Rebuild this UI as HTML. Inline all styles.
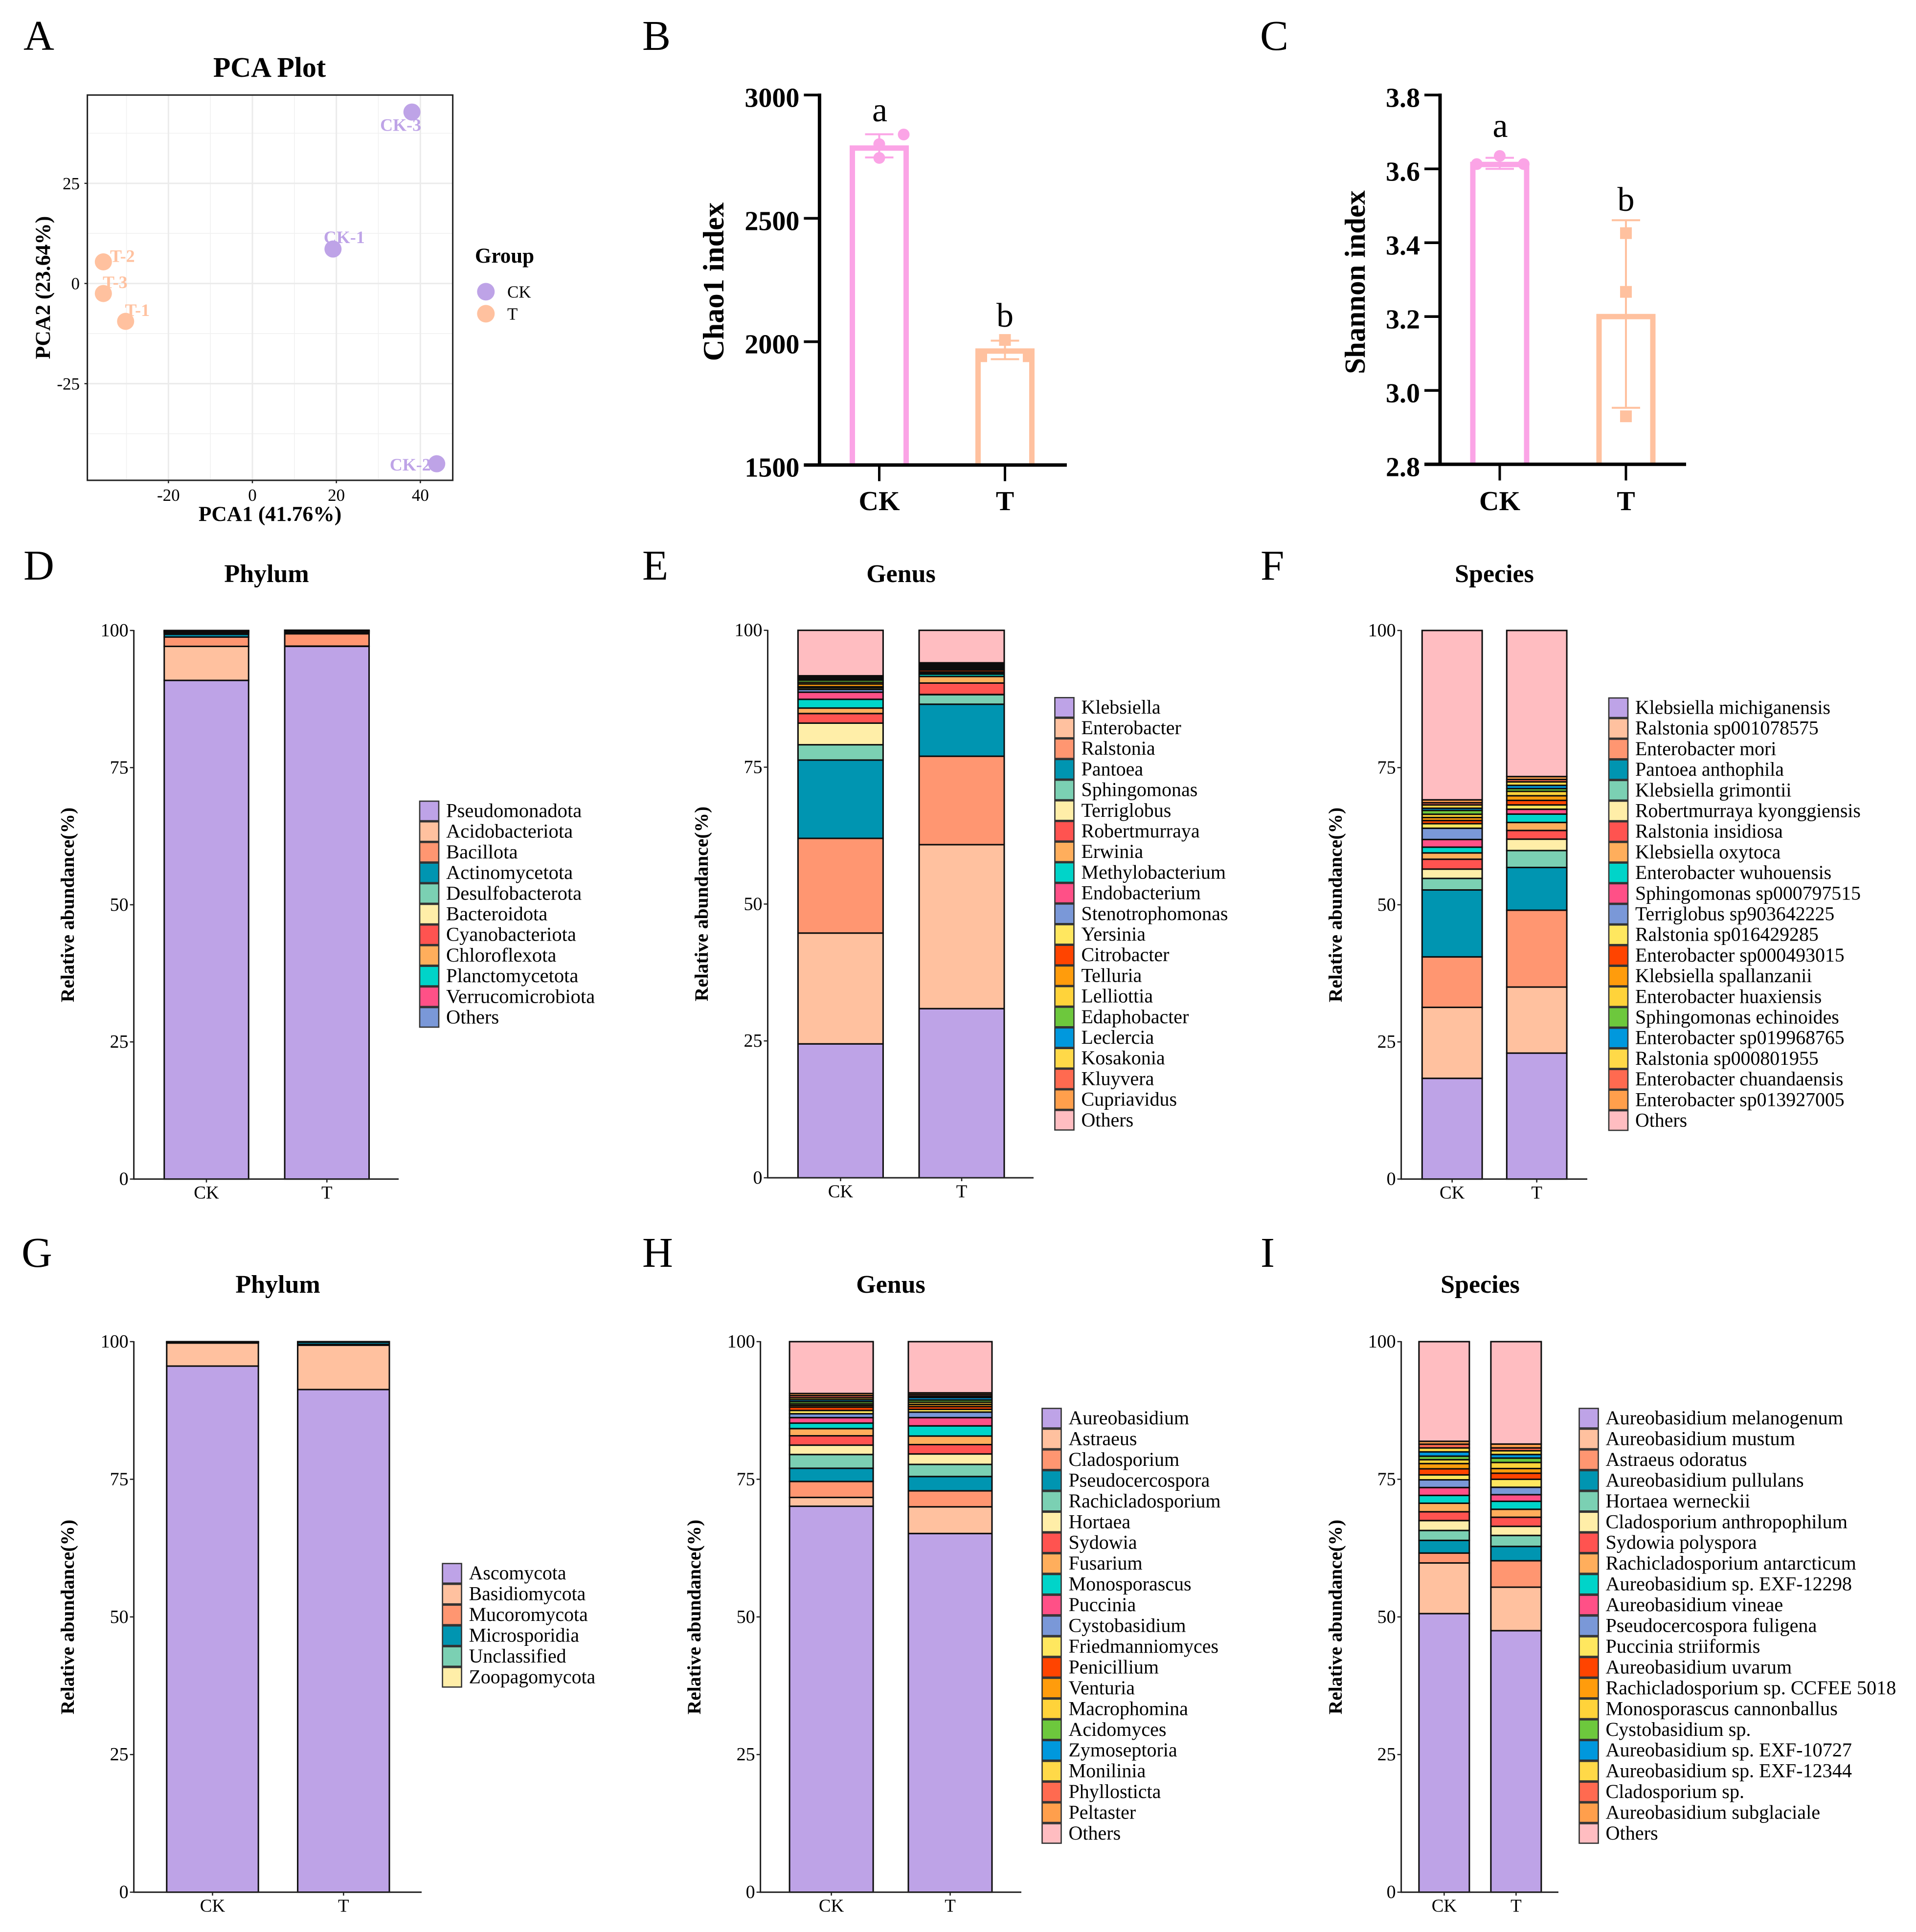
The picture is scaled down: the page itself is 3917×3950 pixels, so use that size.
<!DOCTYPE html>
<html lang="en">
<head>
<meta charset="utf-8">
<title>Microbial diversity and composition panels</title>
<style>
html,body{margin:0;padding:0;background:#fff}
svg{display:block}
text{font-family:"Liberation Serif","Times New Roman",serif;fill:#000}
.bold{font-weight:bold}
</style>
</head>
<body>
<svg id="figure" xmlns="http://www.w3.org/2000/svg" width="3917" height="3950" viewBox="0 0 3917 3950">
<rect x="0" y="0" width="3917" height="3950" fill="#fff"/>
<g font-size="87">
<text x="48" y="102">A</text>
<text x="1313" y="102">B</text>
<text x="2576" y="102">C</text>
<text x="48" y="1185">D</text>
<text x="1313" y="1185">E</text>
<text x="2577" y="1185">F</text>
<text x="44" y="2590">G</text>
<text x="1313" y="2590">H</text>
<text x="2577" y="2590">I</text>
</g>
<g class="bold" font-size="52" text-anchor="middle">
<text class="bold" x="551" y="157" font-size="58">PCA Plot</text>
<text class="bold" x="545" y="1190">Phylum</text>
<text class="bold" x="1842" y="1190">Genus</text>
<text class="bold" x="3055" y="1190">Species</text>
<text class="bold" x="568" y="2643">Phylum</text>
<text class="bold" x="1821" y="2643">Genus</text>
<text class="bold" x="3026" y="2643">Species</text>
</g>
<g text-anchor="middle">
<text class="bold" font-size="43.5" x="552" y="1065">PCA1 (41.76%)</text>
<text class="bold" font-size="43.5" transform="translate(102,588) rotate(-90)">PCA2 (23.64%)</text>
<text class="bold" font-size="60.5" transform="translate(1479,576) rotate(-90)">Chao1 index</text>
<text class="bold" font-size="59" transform="translate(2790,577) rotate(-90)">Shannon index</text>
<text class="bold" font-size="39.5" transform="translate(151,1850) rotate(-90)">Relative abundance(%)</text>
<text class="bold" font-size="39.5" transform="translate(1447,1848) rotate(-90)">Relative abundance(%)</text>
<text class="bold" font-size="39.5" transform="translate(2743,1850) rotate(-90)">Relative abundance(%)</text>
<text class="bold" font-size="39.5" transform="translate(151,3306) rotate(-90)">Relative abundance(%)</text>
<text class="bold" font-size="39.5" transform="translate(1432,3306) rotate(-90)">Relative abundance(%)</text>
<text class="bold" font-size="39.5" transform="translate(2743,3306) rotate(-90)">Relative abundance(%)</text>
</g>
<g>
<text class="bold" font-size="43" x="971" y="537">Group</text>
</g>
</svg>
<script>
/* ---------- PCA data ---------- */
const pcaSamples = ['CK-1','CK-2','CK-3','T-1','T-2','T-3'];
const pcaGroups = ['CK','CK','CK','T','T','T'];
const pcaX = [19.2,43.9,38,-30.2,-35.5,-35.5];
const pcaY = [8.6,-45,42.8,-9.45,5.4,-2.5];
const pcaXTicks = [-20,0,20,40];
const pcaYTicks = [-25,0,25];
const pcaXMinor = [-30,-10,10,30];
const pcaYMinor = [-37.5,-12.5,12.5,37.5];
const pcaLegendGroups = ['CK','T'];

/* ---------- Alpha diversity data ---------- */
const alphaCategories = ['CK','T'];
const chaoTicks = ['1500','2000','2500','3000'];
const chaoMeans = [2785,1962];
const chaoUpper = [2841,2004];
const chaoLower = [2747,1929];
const chaoPointsCK = [2801,2745,2840];
const chaoPointsT = [2007,1941,1941];
const chaoLetters = ['a','b'];
const shannonTicks = ['2.8','3.0','3.2','3.4','3.6','3.8'];
const shannonMeans = [3.612,3.2];
const shannonUpper = [3.63,3.461];
const shannonLower = [3.6,2.953];
const shannonPointsCK = [3.635,3.613,3.613];
const shannonPointsT = [3.426,3.267,2.93];
const shannonLetters = ['a','b'];

/* ---------- Stacked bars shared ---------- */
const stackCategories = ['CK','T'];
const stackTicks = [0,25,50,75,100];

/* D bacteria phylum */
const bacPhylumNames = ['Pseudomonadota','Acidobacteriota','Bacillota','Actinomycetota','Desulfobacterota','Bacteroidota','Cyanobacteriota','Chloroflexota','Planctomycetota','Verrucomicrobiota','Others'];
const bacPhylumCK = [90.9,6.2,1.7,0.5,0.25,0.15,0.1,0.08,0.05,0.04,0.03];
const bacPhylumT = [97.1,0.05,2.25,0.15,0.1,0.1,0.08,0.07,0.05,0.05,0.05];

/* E bacteria genus */
const bacGenusNames = ['Klebsiella','Enterobacter','Ralstonia','Pantoea','Sphingomonas','Terriglobus','Robertmurraya','Erwinia','Methylobacterium','Endobacterium','Stenotrophomonas','Yersinia','Citrobacter','Telluria','Lelliottia','Edaphobacter','Leclercia','Kosakonia','Kluyvera','Cupriavidus','Others'];
const bacGenusCK = [24.46,20.24,17.3,14.3,2.8,3.95,1.75,1.0,1.6,1.3,0.5,0.3,0.2,0.5,0.3,0.4,0.2,0.2,0.2,0.2,8.3];
const bacGenusT = [30.9,29.95,16.15,9.5,1.75,0.03,2.09,1.2,0.43,0.1,0.1,0.2,0.35,0.1,0.2,0.2,0.2,0.2,0.2,0.22,5.93];

/* F bacteria species */
const bacSpeciesNames = ['Klebsiella michiganensis','Ralstonia sp001078575','Enterobacter mori','Pantoea anthophila','Klebsiella grimontii','Robertmurraya kyonggiensis','Ralstonia insidiosa','Klebsiella oxytoca','Enterobacter wuhouensis','Sphingomonas sp000797515','Terriglobus sp903642225','Ralstonia sp016429285','Enterobacter sp000493015','Klebsiella spallanzanii','Enterobacter huaxiensis','Sphingomonas echinoides','Enterobacter sp019968765','Ralstonia sp000801955','Enterobacter chuandaensis','Enterobacter sp013927005','Others'];
const bacSpeciesCK = [18.36,12.94,9.2,12.2,2.1,1.7,1.8,1.15,1.05,1.4,2.05,0.83,0.57,0.55,0.6,0.7,0.4,0.6,0.4,0.53,30.87];
const bacSpeciesT = [22.96,12.04,14,7.8,3.08,2.08,1.58,1.46,1.53,0.87,0.02,0.78,0.83,0.84,0.8,0.51,0.59,0.63,0.44,0.53,26.63];

/* G fungi phylum */
const funPhylumNames = ['Ascomycota','Basidiomycota','Mucoromycota','Microsporidia','Unclassified','Zoopagomycota'];
const funPhylumCK = [95.56,4.19,0.1,0.05,0.05,0.05];
const funPhylumT = [91.3,8.05,0.15,0.4,0.05,0.05];

/* H fungi genus */
const funGenusNames = ['Aureobasidium','Astraeus','Cladosporium','Pseudocercospora','Rachicladosporium','Hortaea','Sydowia','Fusarium','Monosporascus','Puccinia','Cystobasidium','Friedmanniomyces','Penicillium','Venturia','Macrophomina','Acidomyces','Zymoseptoria','Monilinia','Phyllosticta','Peltaster','Others'];
const funGenusCK = [70.1,1.6,2.9,2.4,2.5,1.7,1.7,1.3,1.0,1.0,0.7,0.6,0.6,0.3,0.3,0.4,0.35,0.35,0.4,0.38,9.42];
const funGenusT = [65.15,4.85,2.9,2.6,2.2,1.9,1.7,1.55,1.85,1.5,1.0,0.5,0.5,0.4,0.4,0.4,0.45,0.25,0.3,0.3,9.3];

/* I fungi species */
const funSpeciesNames = ['Aureobasidium melanogenum','Aureobasidium mustum','Astraeus odoratus','Aureobasidium pullulans','Hortaea werneckii','Cladosporium anthropophilum','Sydowia polyspora','Rachicladosporium antarcticum','Aureobasidium sp. EXF-12298','Aureobasidium vineae','Pseudocercospora fuligena','Puccinia striiformis','Aureobasidium uvarum','Rachicladosporium sp. CCFEE 5018','Monosporascus cannonballus','Cystobasidium sp.','Aureobasidium sp. EXF-10727','Aureobasidium sp. EXF-12344','Cladosporium sp.','Aureobasidium subglaciale','Others'];
const funSpeciesCK = [50.6,9.2,1.8,2.3,1.8,1.8,1.6,1.55,1.42,1.43,1.4,0.9,1.1,0.95,0.71,0.64,0.78,0.72,0.67,0.53,18.1];
const funSpeciesT = [47.5,7.9,4.8,2.6,2.0,1.65,1.65,1.45,1.45,1.2,1.35,1.45,1.1,0.85,1.1,0.8,0.65,0.68,0.52,0.7,18.6];

const palette = ['#BEA3E7','#FFC19F','#FF9671','#0095B1','#7BD0B3','#FFEEA8','#FF5350','#FFAE5C','#00D4C9','#FF5087','#7A98D8','#FFE75F','#FF4400','#FF9C0C','#FFD33A','#6DC83D','#0098DD','#FFD948','#FF6A50','#FF9F4C','#FFBDC1'];

const NS = 'http://www.w3.org/2000/svg';
const figure = document.getElementById('figure');

function mk(tag, attrs, name, parent, content) {
  const el = document.createElementNS(NS, tag);
  for (const k in attrs) el.setAttribute(k, attrs[k]);
  
  
  if (content !== undefined) el.textContent = content;
  parent.appendChild(el);
  return el;
}
function slug(s) { return String(s).toLowerCase().replace(/[^a-z0-9]+/g, '-').replace(/^-|-$/g, ''); }

/* ---------- Panel A ---------- */
function drawPCA() {
  const g = mk('g', {}, 'pca-plot', figure);
  const left = 178.6, right = 925.6, top = 194.3, bottom = 982;
  const sx = v => 516 + 8.583 * v;
  const sy = v => 579.6 - 8.19 * v;
  const colorOf = { CK: '#BEA3E7', T: '#FFC19F' };
  const repel = [[23,-12],[-54,14],[-23,38.6],[24,-11],[39,0],[24,-11]];
  mk('rect', { x: left, y: top, width: right - left, height: bottom - top, fill: '#fff' }, 'pca-panel', g);
  pcaXMinor.forEach(v => mk('line', { x1: sx(v), x2: sx(v), y1: top, y2: bottom, stroke: '#f1f1f1', 'stroke-width': 1.6 }, 'pca-minor-gridline-x', g));
  pcaYMinor.forEach(v => mk('line', { x1: left, x2: right, y1: sy(v), y2: sy(v), stroke: '#f1f1f1', 'stroke-width': 1.6 }, 'pca-minor-gridline-y', g));
  pcaXTicks.forEach(v => {
    mk('line', { x1: sx(v), x2: sx(v), y1: top, y2: bottom, stroke: '#ebebeb', 'stroke-width': 3 }, 'pca-gridline-x', g);
    mk('line', { x1: sx(v), x2: sx(v), y1: bottom, y2: bottom + 6, stroke: '#222', 'stroke-width': 2.5 }, 'pca-x-tick', g);
    mk('text', { x: sx(v), y: 1024, 'font-size': 35, 'text-anchor': 'middle' }, 'pca-x-tick-label', g, v);
  });
  pcaYTicks.forEach(v => {
    mk('line', { x1: left - 6, x2: left, y1: sy(v), y2: sy(v), stroke: '#222', 'stroke-width': 2.5 }, 'pca-y-tick', g);
    mk('line', { x1: left, x2: right, y1: sy(v), y2: sy(v), stroke: '#ebebeb', 'stroke-width': 3 }, 'pca-gridline-y', g);
    mk('text', { x: 163, y: sy(v) + 12, 'font-size': 35, 'text-anchor': 'end' }, 'pca-y-tick-label', g, v);
  });
  pcaSamples.forEach((s, i) => {
    const c = colorOf[pcaGroups[i]];
    mk('circle', { cx: sx(pcaX[i]), cy: sy(pcaY[i]), r: 17.5, fill: c }, 'pca-point-' + slug(s), g);
  });
  pcaSamples.forEach((s, i) => {
    const c = colorOf[pcaGroups[i]];
    const t = mk('text', { x: sx(pcaX[i]) + repel[i][0], y: sy(pcaY[i]) + repel[i][1], 'font-size': 36, 'font-weight': 'bold', 'text-anchor': 'middle' }, 'pca-label-' + slug(s), g, s);
    t.style.fill = c;
  });
  mk('rect', { x: left, y: top, width: right - left, height: bottom - top, fill: 'none', stroke: '#222', 'stroke-width': 3 }, 'pca-frame', g);
  pcaLegendGroups.forEach((n, i) => {
    const cy = 596.4 + i * 45;
    mk('circle', { cx: 993.3, cy: cy, r: 18, fill: colorOf[n] }, 'pca-legend-key-' + slug(n), g);
    mk('text', { x: 1037, y: cy + 12.2, 'font-size': 35 }, 'pca-legend-label-' + slug(n), g, n);
  });
}

/* ---------- Panels B, C ---------- */
function drawAlpha(id, cfg, ticks, means, upper, lower, ptsCK, ptsT, letters) {
  const g = mk('g', {}, id + '-bar-chart', figure);
  const lo = parseFloat(ticks[0]), hi = parseFloat(ticks[ticks.length - 1]);
  const sy = v => cfg.yBottom - (v - lo) / (hi - lo) * (cfg.yBottom - cfg.yTop);
  const sx = i => cfg.firstCenter + i * cfg.spacing;
  const colors = ['#FBA4E6', '#FFC19F'];
  const half = 55;
  alphaCategories.forEach((c, i) => {
    const x = sx(i), top = sy(means[i]);
    mk('path', { d: 'M' + (x - half) + ' ' + cfg.yBottom + 'V' + top + 'H' + (x + half) + 'V' + cfg.yBottom, fill: 'none', stroke: colors[i], 'stroke-width': 11 }, id + '-bar-' + slug(c), g);
    mk('line', { x1: x, x2: x, y1: sy(lower[i]), y2: sy(upper[i]), stroke: colors[i], 'stroke-width': 4 }, id + '-error-bar-' + slug(c), g);
    mk('line', { x1: x - 29, x2: x + 29, y1: sy(upper[i]), y2: sy(upper[i]), stroke: colors[i], 'stroke-width': 4 }, id + '-error-cap-upper-' + slug(c), g);
    mk('line', { x1: x - 29, x2: x + 29, y1: sy(lower[i]), y2: sy(lower[i]), stroke: colors[i], 'stroke-width': 4 }, id + '-error-cap-lower-' + slug(c), g);
    mk('text', { x: x + (i === 0 ? 1 : 0), y: cfg.letterBase[i], 'font-size': 70, 'text-anchor': 'middle' }, id + '-significance-letter-' + slug(c), g, letters[i]);
  });
  ptsCK.forEach((v, k) => mk('circle', { cx: sx(0) + cfg.jitterCK[k], cy: sy(v), r: 12, fill: colors[0] }, id + '-point-ck', g));
  ptsT.forEach((v, k) => mk('rect', { x: sx(1) + cfg.jitterT[k] - 12, y: sy(v) - 12, width: 24, height: 24, fill: colors[1] }, id + '-point-t', g));
  mk('line', { x1: cfg.axisX, x2: cfg.axisX, y1: cfg.yTop - 3, y2: cfg.yBottom, stroke: '#000', 'stroke-width': 7 }, id + '-y-axis', g);
  mk('line', { x1: cfg.axisX - 32, x2: cfg.xEnd, y1: cfg.yBottom, y2: cfg.yBottom, stroke: '#000', 'stroke-width': 7 }, id + '-x-axis', g);
  ticks.forEach(tk => {
    const y = sy(parseFloat(tk));
    mk('line', { x1: cfg.axisX - 32, x2: cfg.axisX, y1: y, y2: y, stroke: '#000', 'stroke-width': 5.5 }, id + '-y-tick', g);
    mk('text', { x: cfg.axisX - 41, y: y + 24, 'font-size': 56, 'font-weight': 'bold', 'text-anchor': 'end' }, id + '-y-tick-label', g, tk);
  });
  alphaCategories.forEach((c, i) => {
    mk('line', { x1: sx(i), x2: sx(i), y1: cfg.yBottom, y2: cfg.yBottom + 33, stroke: '#000', 'stroke-width': 5 }, id + '-x-tick', g);
    mk('text', { x: sx(i), y: 1043, 'font-size': 56, 'font-weight': 'bold', 'text-anchor': 'middle' }, id + '-x-tick-label', g, c);
  });
}

/* ---------- Panels D-I ---------- */
function drawStack(id, L, names, ck, t) {
  const g = mk('g', {}, id + '-stacked-chart', figure);
  const sy = v => L.y0 - v / 100 * (L.y0 - L.y100);
  const sx = i => L.firstCenter + i * L.spacing;
  [ck, t].forEach((vals, c) => {
    let cum = 0;
    const x = sx(c) - L.barW / 2;
    vals.forEach((v, i) => {
      const a = sy(cum + v), b = sy(cum);
      mk('rect', { x: x, y: a, width: L.barW, height: b - a, fill: palette[i], stroke: '#0c0c0c', 'stroke-width': 3 }, id + '-bar-' + slug(stackCategories[c]) + '-' + slug(names[i]), g);
      cum += v;
    });
  });
  mk('line', { x1: L.axisX, x2: L.axisX, y1: L.y100 - 1, y2: L.y0 + 1.5, stroke: '#222', 'stroke-width': 3 }, id + '-y-axis', g);
  mk('line', { x1: L.axisX, x2: L.xEnd, y1: L.y0, y2: L.y0, stroke: '#222', 'stroke-width': 3 }, id + '-x-axis', g);
  stackTicks.forEach(v => {
    mk('line', { x1: L.axisX - 8, x2: L.axisX, y1: sy(v), y2: sy(v), stroke: '#222', 'stroke-width': 2.5 }, id + '-y-tick', g);
    mk('text', { x: L.axisX - 11, y: sy(v) + 12, 'font-size': 38, 'text-anchor': 'end' }, id + '-y-tick-label', g, v);
  });
  stackCategories.forEach((c, i) => {
    mk('line', { x1: sx(i), x2: sx(i), y1: L.y0, y2: L.y0 + 7, stroke: '#222', 'stroke-width': 2.5 }, id + '-x-tick', g);
    mk('text', { x: sx(i), y: L.y0 + 40, 'font-size': 37, 'text-anchor': 'middle' }, id + '-x-tick-label', g, c);
  });
  names.forEach((n, i) => {
    const cy = L.legendFirst + i * L.legendStep;
    mk('rect', { x: L.swatchX, y: cy - 20, width: 39, height: 40, fill: palette[i], stroke: '#333', 'stroke-width': 2.6 }, id + '-legend-swatch-' + slug(n), g);
    mk('text', { x: L.swatchX + 54, y: cy + 12.5, 'font-size': L.legendFont }, id + '-legend-label-' + slug(n), g, n);
  });
}

drawPCA();
drawAlpha('chao1', { yTop: 194.3, yBottom: 950.7, axisX: 1675.4, xEnd: 2181, firstCenter: 1797.5, spacing: 257, jitterCK: [0, 0, 50], jitterT: [0, -48.5, 48.5], letterBase: [248, 668] }, chaoTicks, chaoMeans, chaoUpper, chaoLower, chaoPointsCK, chaoPointsT, chaoLetters);
drawAlpha('shannon', { yTop: 194.3, yBottom: 949.3, axisX: 2944, xEnd: 3447, firstCenter: 3066, spacing: 258, jitterCK: [0, -47, 49], jitterT: [0, 0, 0], letterBase: [280, 431] }, shannonTicks, shannonMeans, shannonUpper, shannonLower, shannonPointsCK, shannonPointsT, shannonLetters);
drawStack('bacteria-phylum', { axisX: 273.6, y100: 1289, y0: 2410.6, xEnd: 815, firstCenter: 422, spacing: 246.3, barW: 172.5, swatchX: 858, legendFirst: 1658, legendStep: 42.2, legendFont: 40.6 }, bacPhylumNames, bacPhylumCK, bacPhylumT);
drawStack('bacteria-genus', { axisX: 1569.5, y100: 1288.7, y0: 2408, xEnd: 2113, firstCenter: 1718.4, spacing: 247.6, barW: 174, swatchX: 2156.5, legendFirst: 1446.3, legendStep: 42.2, legendFont: 40 }, bacGenusNames, bacGenusCK, bacGenusT);
drawStack('bacteria-species', { axisX: 2864.6, y100: 1289, y0: 2410.6, xEnd: 3245, firstCenter: 2968.7, spacing: 173, barW: 122.8, swatchX: 3289, legendFirst: 1447, legendStep: 42.2, legendFont: 39.8 }, bacSpeciesNames, bacSpeciesCK, bacSpeciesT);
drawStack('fungi-phylum', { axisX: 273.6, y100: 2743, y0: 3868.6, xEnd: 862, firstCenter: 434.5, spacing: 267.8, barW: 187.4, swatchX: 904.6, legendFirst: 3216.7, legendStep: 42.5, legendFont: 39.8 }, funPhylumNames, funPhylumCK, funPhylumT);
drawStack('fungi-genus', { axisX: 1554.6, y100: 2743, y0: 3868.6, xEnd: 2088, firstCenter: 1699.6, spacing: 242.9, barW: 171, swatchX: 2130.5, legendFirst: 2899.5, legendStep: 42.45, legendFont: 40 }, funGenusNames, funGenusCK, funGenusT);
drawStack('fungi-species', { axisX: 2864.6, y100: 2743, y0: 3868.6, xEnd: 3186, firstCenter: 2952.4, spacing: 147, barW: 103, swatchX: 3228.5, legendFirst: 2899.5, legendStep: 42.45, legendFont: 40.2 }, funSpeciesNames, funSpeciesCK, funSpeciesT);
</script>
</body>
</html>
